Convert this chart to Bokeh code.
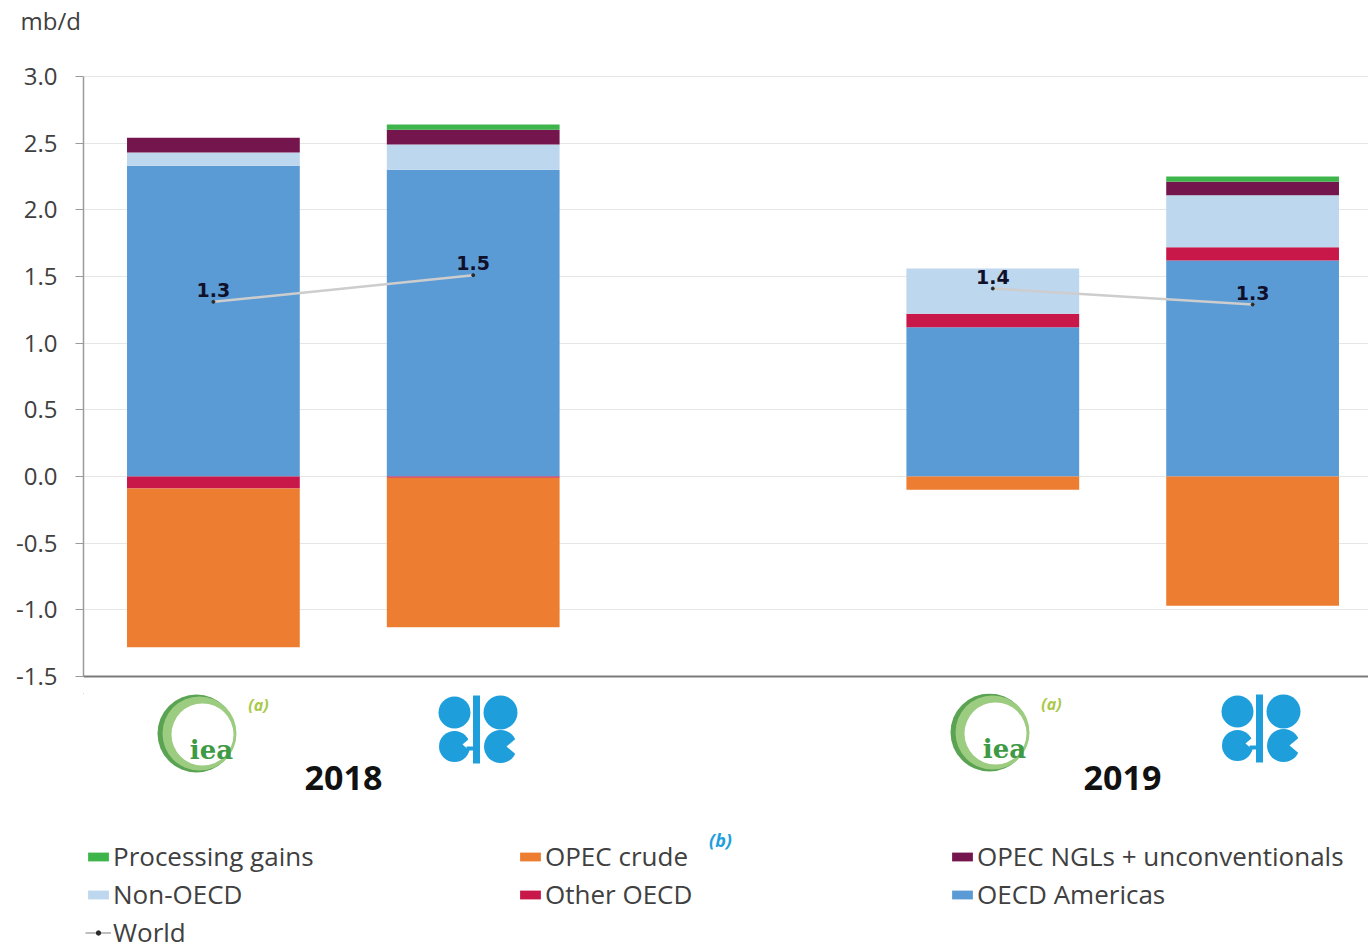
from bokeh.plotting import figure
from bokeh.models import (ColumnDataSource, Range1d, FixedTicker, PrintfTickFormatter,
                          Legend, LegendItem, Span, Title)
from bokeh.layouts import column
from bokeh.core.properties import value
from bokeh.embed import file_html
from bokeh.resources import INLINE

# ---------------- data ----------------
years = ["2018", "2019"]
agencies = ["IEA", "OPEC"]
bars = [(y, a) for y in years for a in agencies]

oecd_americas    = [2.33, 2.30, 1.12, 1.62]
other_oecd       = [-0.09, -0.01, 0.10, 0.10]
non_oecd         = [0.10, 0.19, 0.34, 0.39]
opec_ngls        = [0.11, 0.11, 0.00, 0.10]
processing_gains = [0.00, 0.04, 0.00, 0.04]
opec_crude       = [-1.19, -1.12, -0.10, -0.97]
world            = [1.31, 1.51, 1.41, 1.29]

y_ticks = [-1.5, -1.0, -0.5, 0.0, 0.5, 1.0, 1.5, 2.0, 2.5, 3.0]

COL = {
    "Processing gains": "#3db54a",
    "OPEC crude": "#ed7d31",
    "OPEC NGLs + unconventionals": "#74164d",
    "Non-OECD": "#bdd7ee",
    "Other OECD": "#c8184a",
    "OECD Americas": "#5b9bd5",
}

# bar positions: one empty slot between the year groups
pos = [years.index(y) * (len(agencies) + 1) + agencies.index(a) for (y, a) in bars]

src = ColumnDataSource(dict(
    x=pos,
    am=[max(v, 0) for v in oecd_americas],
    oth_p=[max(v, 0) for v in other_oecd],
    non=[max(v, 0) for v in non_oecd],
    ngl=[max(v, 0) for v in opec_ngls],
    pg=[max(v, 0) for v in processing_gains],
    oth_n=[min(v, 0) for v in other_oecd],
    crude=[min(v, 0) for v in opec_crude],
))

# ---------------- main chart ----------------
TOTAL_W, TOTAL_H = 1368, 949
LEFT = 83
TOP_BORDER = 40           # room for the "mb/d" title
AXIS_TOP_PX = 76          # page y of 3.0
PX = 600 / 4.5            # px per unit on y
Y1 = 3.0 + (AXIS_TOP_PX - TOP_BORDER) / PX
FRAME_H = 653
Y0 = Y1 - FRAME_H / PX
HA = TOP_BORDER + FRAME_H
UNIT_X = 259.8
FRAME_W = TOTAL_W - LEFT

p = figure(width=TOTAL_W, height=HA,
           x_range=Range1d(-0.5, -0.5 + FRAME_W / UNIT_X),
           y_range=Range1d(Y0, Y1),
           min_border_left=LEFT, min_border_top=TOP_BORDER, min_border_right=0,
           min_border_bottom=0,
           toolbar_location=None, output_backend="svg",
           x_axis_location=None, outline_line_color=None)

p.title = Title(text="mb/d", align="left", offset=-63, standoff=4, vertical_align="top",
                text_font="Open Sans", text_font_size="24px", text_font_style="normal",
                text_color="#404040")

W = 0.665
p.vbar_stack(["am", "oth_p", "non", "ngl", "pg"], x="x", width=W, source=src,
             color=[COL["OECD Americas"], COL["Other OECD"], COL["Non-OECD"],
                    COL["OPEC NGLs + unconventionals"], COL["Processing gains"]],
             line_width=0)
p.vbar_stack(["oth_n", "crude"], x="x", width=W, source=src,
             color=[COL["Other OECD"], COL["OPEC crude"]], line_width=0)

# world line, one segment per year
seg_xs = [[pos[i] for i in range(len(bars)) if bars[i][0] == y] for y in years]
seg_ys = [[world[i] for i in range(len(bars)) if bars[i][0] == y] for y in years]
p.multi_line(seg_xs, seg_ys, line_color="#cdcdcd", line_width=2.5)
p.scatter(pos, world, size=3, color="#2a2a2a")
p.text(x=pos, y=world, text=[f"{w:.1f}" for w in world],
       text_font=value("DejaVu Sans"), text_font_style="bold", text_font_size="19px",
       text_color="#10102a", text_align="center", text_baseline="bottom", y_offset=-5)

p.add_layout(Span(location=-1.5, dimension="width", line_color="#7a7a7a", line_width=2))

ax = p.yaxis[0]
ax.ticker = FixedTicker(ticks=y_ticks)
ax.formatter = PrintfTickFormatter(format="%.1f")
ax.bounds = (-1.5, 3.0)
ax.major_label_text_font = "Open Sans"
ax.major_label_text_font_size = "24px"
ax.major_label_text_color = "#404040"
ax.major_tick_out = 8
ax.major_tick_in = 0
ax.minor_tick_line_color = None
ax.major_tick_line_color = "#9a9a9a"
ax.axis_line_color = "#9a9a9a"
ax.axis_line_width = 1.5
ax.major_label_standoff = 18

p.ygrid.grid_line_color = "#e6e6e6"
p.ygrid.grid_line_width = 1
p.xgrid.visible = False

# ---------------- logos + legend (coordinates in page pixels) ----------------
HB = TOTAL_H - HA
pb = figure(width=TOTAL_W, height=HB, x_range=Range1d(LEFT, TOTAL_W),
            y_range=Range1d(TOTAL_H, HA),
            min_border_left=LEFT, min_border_right=0, min_border_top=0, min_border_bottom=0,
            toolbar_location=None, output_backend="svg",
            x_axis_location=None, y_axis_location=None, outline_line_color=None)
pb.grid.visible = False

iea_centers = [(196, 733), (989, 732)]
opec_centers = [(476, 729), (1259, 728)]
year_label_pos = [(343, 777), (1122, 777)]

# IEA logos (ring + text)
for cx, cy in iea_centers:
    pb.scatter([cx], [cy], size=78, color="#5aa352", line_color=None)
    pb.scatter([cx + 3], [cy], size=74, color="#9ccc80", line_color=None)
    pb.scatter([cx + 6], [cy + 1], size=62, color="white", line_color=None)
pb.text(x=[c[0] + 15 for c in iea_centers], y=[c[1] + 16 for c in iea_centers],
        text=["iea"] * 2, text_font=value("DejaVu Serif"), text_font_style="bold",
        text_font_size="26px", text_color="#3f9a45", text_align="center",
        text_baseline="alphabetic")
pb.text(x=[c[0] + 62 for c in iea_centers], y=[c[1] - 29 for c in iea_centers],
        text=["(a)"] * 2, text_font=value("Open Sans"), text_font_style="bold italic",
        text_font_size="16px", text_color="#a9c94a", text_align="center",
        text_baseline="middle")

# OPEC logos
OB = "#1e9fdc"
for cx, cy in opec_centers:
    pb.scatter([cx - 22, cx + 24, cx - 22, cx + 24], [cy - 17, cy - 17, cy + 17, cy + 17],
               size=[32, 34, 31, 33], color=OB, line_color=None)
    pb.rect([cx], [cy], width=7, height=68, width_units="screen", height_units="screen",
            color=OB, line_color=None)
    pb.wedge([cx + 30, cx - 14], [cy + 17, cy + 15], radius=[14, 10], radius_units="screen",
             start_angle=-0.7, end_angle=0.7, color="white", line_color=None)
    pb.rect([cx - 6], [cy + 19], width=8, height=4, width_units="screen",
            height_units="screen", color=OB, line_color=None)

pb.text(x=[q[0] for q in year_label_pos], y=[q[1] for q in year_label_pos], text=years,
        text_font=value("Open Sans"), text_font_style="bold", text_font_size="34px",
        text_color="#111111", text_align="center", text_baseline="alphabetic")

pb.text(x=[720], y=[839], text=["(b)"], text_font=value("Open Sans"),
        text_font_style="bold italic", text_font_size="18px", text_color="#1ea0dc",
        text_align="center", text_baseline="middle")

dummy = ColumnDataSource(dict(x=[0], y=[0]))
legend_order = ["Processing gains", "OPEC crude", "OPEC NGLs + unconventionals",
                "Non-OECD", "Other OECD", "OECD Americas"]
items = []
for name in legend_order:
    r = pb.vbar(x="x", top="y", width=1, source=dummy, fill_color=COL[name], line_color=None)
    items.append(LegendItem(label=name, renderers=[r]))
rl = pb.line(x="x", y="y", source=dummy, line_color="#a8a8a8", line_width=1.5)
rs = pb.scatter(x="x", y="y", source=dummy, size=3, color="#2a2a2a")
items.append(LegendItem(label="World", renderers=[rl, rs]))

leg = Legend(items=items, orientation="horizontal", ncols=3, location=(2, -1),
             label_text_font="Open Sans", label_text_font_size="26px",
             label_text_color="#404040", glyph_width=26, glyph_height=11,
             label_standoff=2, label_width=402, label_height=30, spacing=2,
             padding=0, margin=0, border_line_color=None, background_fill_alpha=0)
pb.add_layout(leg)

layout = column(p, pb, spacing=0)
open("out.html", "w").write(file_html(layout, INLINE))
